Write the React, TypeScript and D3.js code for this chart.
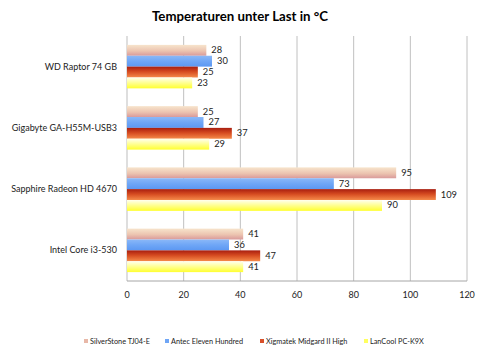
import React from "react";
import * as d3 from "d3";

const categories = ["WD Raptor 74 GB", "Gigabyte GA-H55M-USB3", "Sapphire Radeon HD 4670", "Intel Core i3-530"];
const seriesNames = ["SilverStone TJ04-E", "Antec Eleven Hundred", "Xigmatek Midgard II High", "LanCool PC-K9X"];
const silverStone = [28, 25, 95, 41];
const antec = [30, 27, 73, 36];
const xigmatek = [25, 37, 109, 47];
const lanCool = [23, 29, 90, 41];
const xTicks = [0, 20, 40, 60, 80, 100, 120];

const seriesValues = [silverStone, antec, xigmatek, lanCool];
const gradients = [
  [["0%", "#f7e4cc"], ["55%", "#ecc4b0"], ["100%", "#d99a9a"]],
  [["0%", "#8ab8f8"], ["50%", "#6fa6f6"], ["100%", "#5c98f2"]],
  [["0%", "#a81e10"], ["45%", "#d54a20"], ["100%", "#f58a4a"]],
  [["0%", "#fffff0"], ["45%", "#ffff9a"], ["100%", "#ffff30"]],
];
const legendColors = ["#e8b8a8", "#6fa6f6", "#d8502a", "#ffff60"];

export default function App() {
  const W = 500, H = 351;
  const left = 127, right = 467, top = 36, bottom = 281;
  const x = d3.scaleLinear().domain([0, 120]).range([left, right]);
  const y0 = d3.scaleBand().domain(categories).range([top, bottom]).paddingInner(0.29).paddingOuter(0.145);
  const y1 = d3.scaleBand().domain(seriesNames).range([0, y0.bandwidth()]);
  const font = "Lato, 'Open Sans', 'Liberation Sans', sans-serif";
  const legendX = [84, 165, 260, 364];
  return (
    <svg width={W} height={H} style={{ position: "absolute", left: 0, top: 0, fontFamily: font }}>
      <defs>
        {gradients.map((g, i) => (
          <linearGradient key={i} id={`g${i}`} x1="0" y1="0" x2="0" y2="1">
            {g.map(([o, c], j) => <stop key={j} offset={o} stopColor={c} />)}
          </linearGradient>
        ))}
      </defs>
      <rect width={W} height={H} fill="#fff" />
      <text x={240} y={21} textAnchor="middle" fontSize={13} fontWeight="bold" fill="#000" textLength={176} lengthAdjust="spacingAndGlyphs">Temperaturen unter Last in °C</text>
      {xTicks.map((t) => (
        <line key={t} x1={x(t)} x2={x(t)} y1={top} y2={bottom} stroke={t === 0 ? "#bdbdbd" : "#c0c0c0"} strokeWidth={1} />
      ))}
      <line x1={left} x2={right} y1={bottom} y2={bottom} stroke="#a6a6a6" />
      {xTicks.map((t) => (
        <text key={t} x={x(t)} y={298} textAnchor="middle" fontSize={9} fill="#222">{t}</text>
      ))}
      {categories.map((c, ci) => (
        <g key={c}>
          <text x={117} y={(y0(c) as number) + y0.bandwidth() / 2 + 3} textAnchor="end" fontSize={9} fill="#222">{c}</text>
          {seriesNames.map((s, si) => {
            const v = seriesValues[si][ci];
            const yy = (y0(c) as number) + (y1(s) as number);
            return (
              <g key={s}>
                <rect x={x(0)} y={yy} width={x(v) - x(0)} height={y1.bandwidth()} fill={`url(#g${si})`} />
                <text x={x(v) + 5} y={yy + y1.bandwidth() / 2 + 3} fontSize={9.3} fill="#222">{v}</text>
              </g>
            );
          })}
        </g>
      ))}
      {seriesNames.map((s, i) => (
        <g key={s}>
          <rect x={legendX[i]} y={339} width={4} height={4} fill={legendColors[i]} />
          <text x={legendX[i] + 6} y={344} fontSize={7.3} fill="#222">{s}</text>
        </g>
      ))}
    </svg>
  );
}
